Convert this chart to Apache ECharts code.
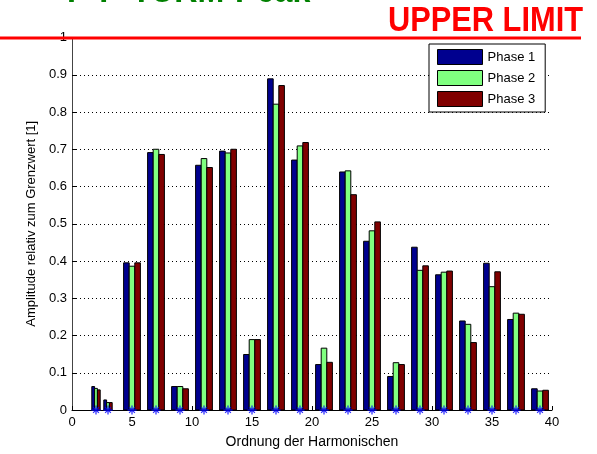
<!DOCTYPE html>
<html>
<head>
<meta charset="utf-8">
<script src="https://cdn.jsdelivr.net/npm/echarts@6/dist/echarts.min.js"></script>
<style>
  html, body { margin: 0; padding: 0; background: #fff; }
  #chart { width: 597px; height: 454px; }
</style>
</head>
<body>
<div id="chart"></div>
<script>
// Harmonische Ordnung
var harmonics = [2, 3, 5, 7, 9, 11, 13, 15, 17, 19, 21, 23, 25, 27, 29, 31, 33, 35, 37, 39]
// Amplitude relativ zum Grenzwert je Phase
var phase1 = [0.063, 0.027, 0.395, 0.691, 0.063, 0.657, 0.695, 0.149, 0.889, 0.671, 0.122, 0.639, 0.453, 0.090, 0.437, 0.363, 0.239, 0.394, 0.243, 0.057]
var phase2 = [0.058, 0.020, 0.386, 0.700, 0.063, 0.675, 0.690, 0.189, 0.821, 0.709, 0.166, 0.642, 0.481, 0.127, 0.375, 0.370, 0.230, 0.331, 0.260, 0.051]
var phase3 = [0.054, 0.020, 0.395, 0.686, 0.057, 0.651, 0.700, 0.189, 0.871, 0.718, 0.128, 0.578, 0.505, 0.122, 0.387, 0.373, 0.181, 0.371, 0.257, 0.053]
var seriesNames = ['Phase 1', 'Phase 2', 'Phase 3']
var seriesColors = ['#00008F', '#80FF80', '#800000']
var yTicks = [0, 0.1, 0.2, 0.3, 0.4, 0.5, 0.6, 0.7, 0.8, 0.9, 1]

var font = '"Liberation Sans", Arial, sans-serif'
var chart = echarts.init(document.getElementById('chart'))

// gruppierte Balken wie bei MATLAB bar()
function barRenderer(phase, color) {
    return function (params, api) {
        var idx = params.dataIndex
        var h = api.value(0)
        var v = api.value(1)
        var left = idx > 0 ? h - harmonics[idx - 1] : 2
        var right = idx < harmonics.length - 1 ? harmonics[idx + 1] - h : 2
        var spacing = Math.min(left, right)
        var unit = api.size([1, 0])[0]
        var groupW = spacing * 0.7 * unit
        var w = groupW / 3
        var base = api.coord([h, 0])
        var top = api.coord([h, v])
        return {
            type: 'rect',
            shape: { x: base[0] - groupW / 2 + phase * w, y: top[1], width: w, height: base[1] - top[1] },
            style: { fill: color, stroke: '#000', lineWidth: 1 }
        }
    }
}

var phases = [phase1, phase2, phase3]
var series = phases.map(function (vals, i) {
    return {
        name: seriesNames[i],
        type: 'custom',
        renderItem: barRenderer(i, seriesColors[i]),
        itemStyle: { color: seriesColors[i], borderColor: '#000', borderWidth: 1 },
        encode: { x: 0, y: 1 },
        data: harmonics.map(function (h, j) { return [h, vals[j]] }),
        z: 2
    }
})
series.push({
    type: 'scatter',
    symbol: 'path://M5 0L5 10M0 5L10 5M1.8 1.8L8.2 8.2M8.2 1.8L1.8 8.2',
    symbolSize: 9,
    itemStyle: { color: 'none', borderColor: '#0000FF', borderWidth: 1.3 },
    data: harmonics.map(function (h) { return [h, 0] }),
    clip: false,
    silent: true,
    z: 5
})

var option = {
    animation: false,
    backgroundColor: '#fff',
    grid: { left: 72, right: 45, top: 37.5, bottom: 41 },
    legend: {
        data: seriesNames.map(function (n) { return { name: n, icon: 'rect' } }),
        orient: 'vertical',
        left: 429,
        top: 44,
        itemWidth: 45,
        itemHeight: 15,
        itemGap: 5,
        padding: [5, 10, 5, 8],
        backgroundColor: '#fff',
        borderColor: '#000',
        borderWidth: 1,
        itemStyle: { borderColor: '#000', borderWidth: 1 },
        textStyle: { fontFamily: font, fontSize: 13, color: '#000' }
    },
    xAxis: {
        type: 'value',
        min: 0,
        max: 40,
        interval: 5,
        name: 'Ordnung der Harmonischen',
        nameLocation: 'middle',
        nameGap: 25,
        nameTextStyle: { fontFamily: font, fontSize: 14, color: '#000' },
        axisLine: { lineStyle: { color: '#000', width: 1 } },
        axisTick: { inside: true, length: 4, lineStyle: { color: '#000' } },
        axisLabel: { fontFamily: font, fontSize: 13, color: '#000', margin: 6 },
        splitLine: { show: false }
    },
    yAxis: {
        type: 'value',
        min: 0,
        max: 1,
        interval: 0.1,
        name: 'Amplitude relativ zum Grenzwert [1]',
        nameLocation: 'middle',
        nameGap: 34,
        nameTextStyle: { fontFamily: font, fontSize: 13, color: '#000' },
        axisLine: { show: true, lineStyle: { color: '#444', width: 1 } },
        axisTick: { show: true, inside: true, length: 4, lineStyle: { color: '#000' } },
        axisLabel: {
            fontFamily: font, fontSize: 13, color: '#000', margin: 5,
            formatter: function (v) {
                var t = yTicks.find(function (k) { return Math.abs(k - v) < 1e-6 })
                return String(t)
            }
        },
        splitLine: { show: true, lineStyle: { color: '#000', width: 1, type: [1, 3] } }
    },
    graphic: [
        {
            type: 'text',
            x: 67,
            y: 9.5,
            scaleX: 0.92,
            style: { text: 'P-P-TURM-Peak', font: 'bold 35px ' + font, fill: '#008000', verticalAlign: 'bottom' },
            z: 10
        },
        {
            type: 'group',
            x: 583,
            y: 0,
            scaleX: 0.88,
            children: [{
                type: 'text',
                x: 0,
                y: 21,
                style: { text: 'UPPER LIMIT', font: 'bold 35px ' + font, fill: '#FF0000', align: 'right', verticalAlign: 'middle' }
            }],
            z: 10
        },
        {
            type: 'line',
            shape: { x1: 0, y1: 38, x2: 581, y2: 38 },
            style: { stroke: '#FF0000', lineWidth: 3 },
            z: 10
        }
    ],
    series: series
}
chart.setOption(option)
</script>
</body>
</html>
